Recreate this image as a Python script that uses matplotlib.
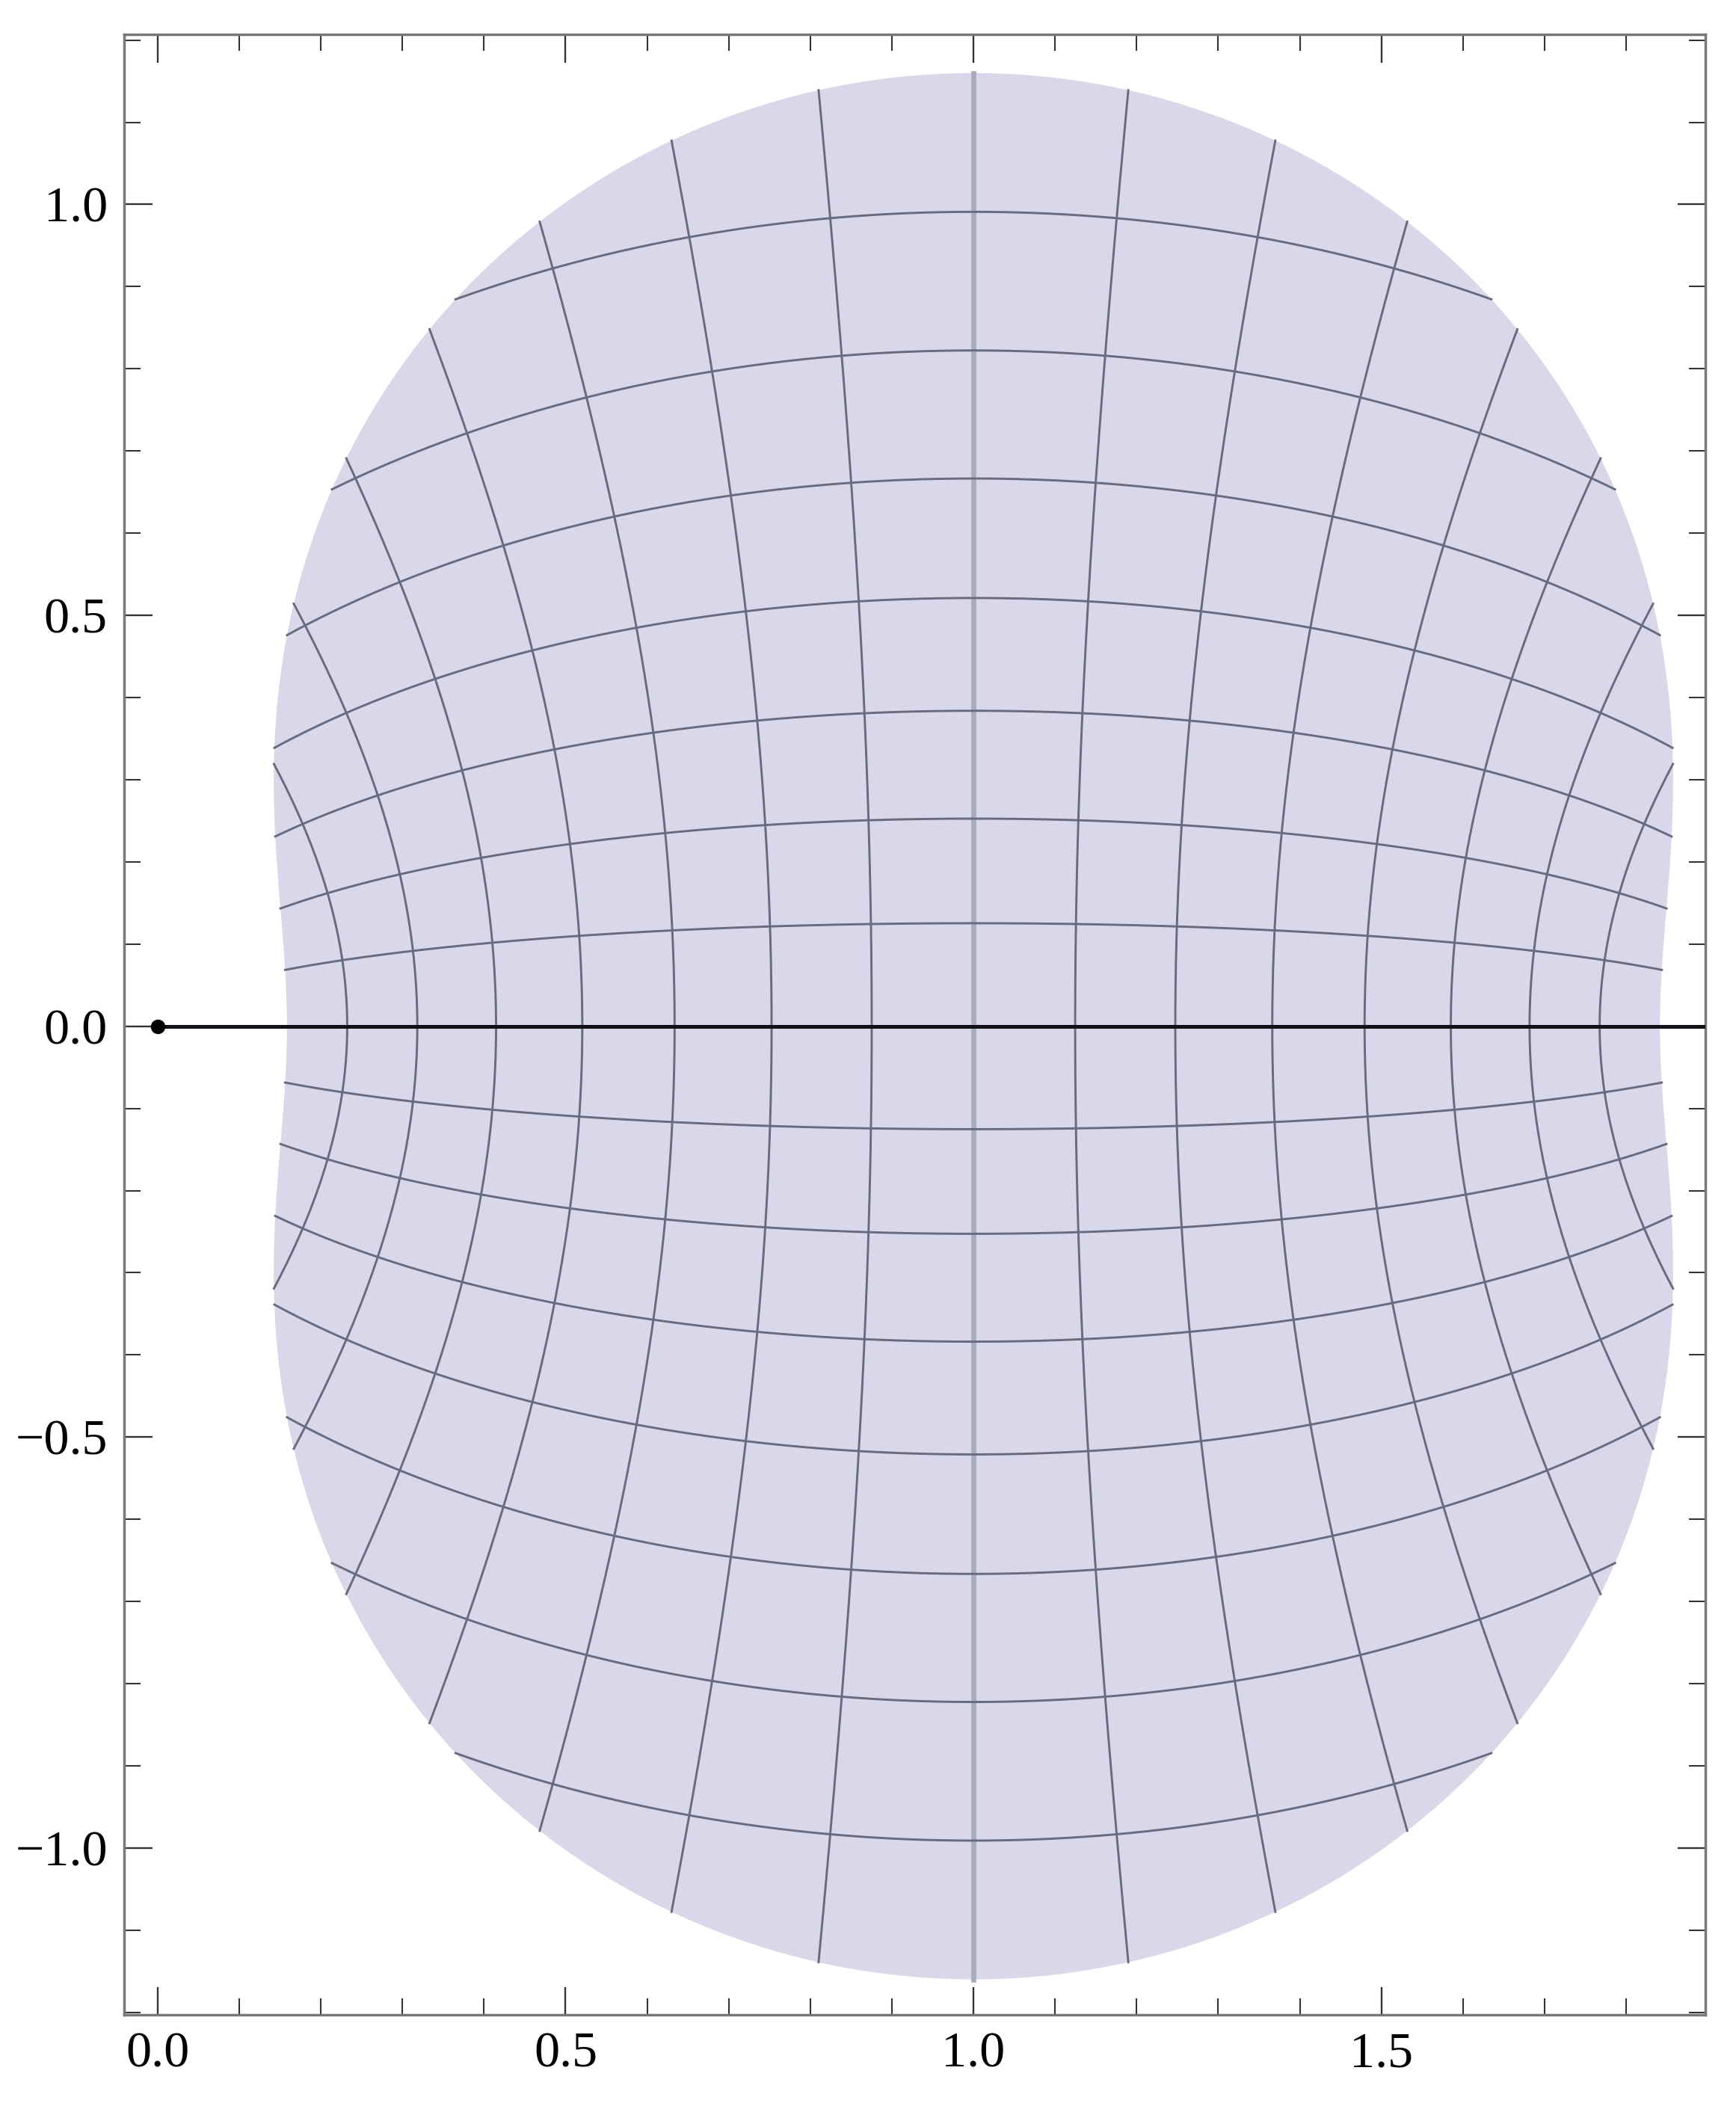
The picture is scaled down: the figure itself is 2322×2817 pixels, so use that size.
import numpy as np
import matplotlib.pyplot as plt
from matplotlib.ticker import MultipleLocator, FuncFormatter

# parameter lines of the mesh (15 lines across the domain)
mesh_u = [-0.875, -0.75, -0.625, -0.5, -0.375, -0.25, -0.125, 0.0,
          0.125, 0.25, 0.375, 0.5, 0.625, 0.75, 0.875]
mesh_v = [-0.875, -0.75, -0.625, -0.5, -0.375, -0.25, -0.125, 0.0,
          0.125, 0.25, 0.375, 0.5, 0.625, 0.75, 0.875]
# half-widths of the parameter domain in u and v
domain_ru = 1.0
domain_rv = 0.99
marked_point = (0.0, 0.0)
xticks = [0.0, 0.5, 1.0, 1.5]
yticks = [-1.0, -0.5, 0.0, 0.5, 1.0]


def f(z):
    # mapped region: w = 1 + sin(z)
    return 1 + np.sin(z)


plt.rcParams['font.family'] = ['Liberation Serif', 'DejaVu Serif']

fig = plt.figure(figsize=(23.22, 28.17), dpi=100)
ax = fig.add_axes([0.0715, 0.0433, 0.9108, 0.9404])

# filled image of the domain
theta = np.linspace(0, 2 * np.pi, 1500)
w = f(domain_ru * np.cos(theta) + 1j * domain_rv * np.sin(theta))
ax.fill(w.real, w.imag, color='#D8D8EA', lw=0, zorder=1)

mesh_color = '#6A6A7E'
for u in mesh_u:
    vmax = domain_rv * np.sqrt(1 - (u / domain_ru) ** 2)
    v = np.linspace(-vmax, vmax, 400)
    w = f(u + 1j * v)
    if u == 0.0:
        ax.plot(w.real, w.imag, color='#ABABBE', lw=4.8, zorder=2)
    else:
        ax.plot(w.real, w.imag, color=mesh_color, lw=2.1, zorder=3)
for v in mesh_v:
    umax = domain_ru * np.sqrt(1 - (v / domain_rv) ** 2)
    u = np.linspace(-umax, umax, 400)
    w = f(u + 1j * v)
    ax.plot(w.real, w.imag, color=mesh_color, lw=2.1, zorder=3)

# ray from the marked point along the real axis
ax.plot([marked_point[0], 3.0], [marked_point[1], marked_point[1]],
        color='#111118', lw=3.6, zorder=4)
ax.plot(marked_point[0], marked_point[1], 'o', color='black', ms=13, zorder=5)

ax.set_xlim(-0.041, 1.897)
ax.set_ylim(-1.203, 1.207)

ax.set_xticks(xticks)
ax.set_yticks(yticks)
ax.xaxis.set_minor_locator(MultipleLocator(0.1))
ax.yaxis.set_minor_locator(MultipleLocator(0.1))
fmt = FuncFormatter(lambda val, pos: f'{val:.1f}'.replace('-', '\u2212'))
ax.xaxis.set_major_formatter(fmt)
ax.yaxis.set_major_formatter(fmt)

ax.tick_params(which='both', direction='in', top=True, right=True,
               color='#333333', labelsize=49)
ax.tick_params(which='major', length=27, width=1.7, pad=16)
ax.tick_params(which='minor', length=16, width=1.5)

for s in ax.spines.values():
    s.set_color('#777777')
    s.set_linewidth(2.5)

plt.savefig('out.png', dpi=100)
